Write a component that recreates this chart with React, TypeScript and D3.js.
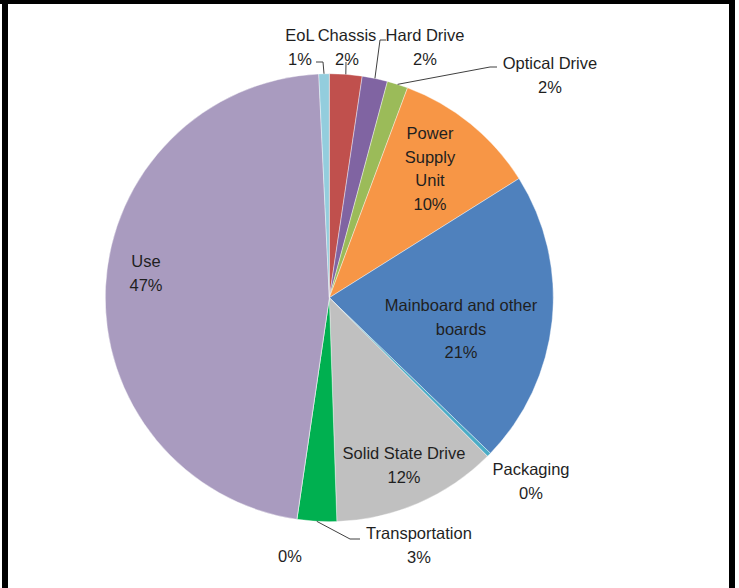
import React, { useEffect, useRef } from 'react';
import * as d3 from 'd3';

// slices, clockwise from 12 o'clock
const categories = [
  'Chassis', 'Hard Drive', 'Optical Drive', 'Power Supply Unit',
  'Mainboard and other boards', 'Packaging', 'Solid State Drive',
  'Transportation', '', 'Use', 'EoL',
];
const shares = [2.35, 1.83, 1.5, 10.4, 21.15, 0.3, 11.95, 2.85, 0, 46.95, 0.75];
const pctLabels = ['2%', '2%', '2%', '10%', '21%', '0%', '12%', '3%', '0%', '47%', '1%'];
const colors = [
  '#C0504D', '#8064A2', '#9BBB59', '#F79646', '#4F81BD', '#4BACC6',
  '#C0C0C0', '#00B050', '#7F7F7F', '#A99BBF', '#93CDDD',
];

// label text lines (name lines followed by the percentage)
const nameLines: string[][] = [
  ['Chassis'], ['Hard Drive'], ['Optical Drive'], ['Power', 'Supply', 'Unit'],
  ['Mainboard and other', 'boards'], ['Packaging'], ['Solid State Drive'],
  ['Transportation'], [], ['Use'], ['EoL'],
];

// label layout: centre x, first line centre y
const labelPos: [number, number][] = [
  [347, 35], [425, 35], [550, 63], [430, 133], [461, 305], [531, 469],
  [404, 453], [419, 533], [290, 556], [146, 261], [300, 35],
];

// leader lines: label-side points, slice end is computed from the arc
const leaders: ([number, number][] | null)[] = [
  [[346, 62]], [[386, 40], [380, 40]], [[497, 67], [490, 67]], null, null, null, null,
  [[360, 539], [350, 539]], null, null, [[316, 62], [323, 62]],
];

const W = 739;
const H = 588;
const cx = 329.3;
const cy = 297.7;
const R = 224;
const lineH = 23.5;

const App: React.FC = () => {
  const svgRef = useRef<SVGSVGElement | null>(null);

  useEffect(() => {
    if (!svgRef.current) return;
    const svg = d3.select(svgRef.current);
    svg.selectAll('*').remove();

    svg.append('rect').attr('width', W).attr('height', H).attr('fill', '#fff');

    const pie = d3.pie<number>().sort(null).value((d) => d);
    const arcs = pie(shares);
    const arc = d3.arc<d3.PieArcDatum<number>>().innerRadius(0).outerRadius(R);

    const g = svg.append('g').attr('transform', `translate(${cx},${cy})`);
    g.selectAll('path')
      .data(arcs)
      .enter()
      .append('path')
      .attr('d', arc as any)
      .attr('fill', (_d, i) => colors[i])
      .attr('stroke', '#fff')
      .attr('stroke-width', 0.4);

    // leader lines
    arcs.forEach((a, i) => {
      const pts = leaders[i];
      if (!pts) return;
      const mid = (a.startAngle + a.endAngle) / 2;
      const end: [number, number] = [cx + R * Math.sin(mid), cy - R * Math.cos(mid)];
      svg.append('path')
        .datum([...pts, end])
        .attr('d', d3.line() as any)
        .attr('fill', 'none')
        .attr('stroke', '#404040')
        .attr('stroke-width', 1);
    });

    // labels
    arcs.forEach((_a, i) => {
      const lines = [...nameLines[i], pctLabels[i]];
      const [lx, ly] = labelPos[i];
      const t = svg.append('text')
        .attr('text-anchor', 'middle')
        .attr('font-family', '"Liberation Sans", Arial, sans-serif')
        .attr('font-size', 16.5)
        .attr('fill', '#1F1F1F');
      lines.forEach((ln, k) => {
        t.append('tspan')
          .attr('x', lx)
          .attr('y', ly + k * lineH + 6)
          .text(ln);
      });
    });

    // frame
    svg.append('rect').attr('x', 0).attr('y', 0).attr('width', 735).attr('height', 4).attr('fill', '#000');
    svg.append('rect').attr('x', 2).attr('y', 0).attr('width', 6).attr('height', H).attr('fill', '#000');
    svg.append('rect').attr('x', 729).attr('y', 0).attr('width', 6).attr('height', H).attr('fill', '#000');
  }, []);

  return (
    <svg
      ref={svgRef}
      width={W}
      height={H}
      style={{ position: 'absolute', left: 0, top: 0 }}
    />
  );
};

export default App;
